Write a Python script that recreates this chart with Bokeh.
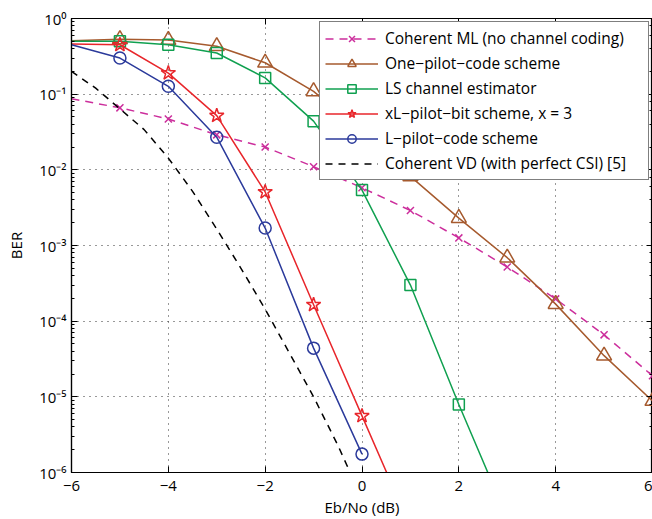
from bokeh.plotting import figure
from bokeh.models import (Legend, LegendItem, LinearAxis, LogAxis, FixedTicker,
                          CustomJSTickFormatter, Range1d, LogTicker)
from bokeh.embed import file_html
from bokeh.resources import INLINE

# ---- data (Eb/No in dB, BER) ----
snr_ml = [-6, -5, -4, -3, -2, -1, 0, 1, 2, 3, 4, 5, 6]
ber_ml = [0.087, 0.066, 0.047, 0.029, 0.020, 0.011, 0.0058, 0.0029, 0.00126, 5.2e-4, 1.97e-4, 6.6e-5, 1.9e-5]

snr_one = [-6, -5, -4, -3, -2, -1, 0, 1, 2, 3, 4, 5, 6]
ber_one = [0.51, 0.53, 0.52, 0.43, 0.26, 0.109, 0.032, 8.2e-3, 2.3e-3, 6.9e-4, 1.68e-4, 3.5e-5, 8.8e-6]

snr_ls = [-6, -5, -4, -3, -2, -1, 0, 1, 2, 3]
ber_ls = [0.50, 0.50, 0.45, 0.35, 0.164, 0.044, 5.4e-3, 3.0e-4, 7.9e-6, 2.5e-7]

snr_xl = [-6, -5, -4, -3, -2, -1, 0, 1]
ber_xl = [0.46, 0.45, 0.19, 0.052, 5.1e-3, 1.65e-4, 5.6e-6, 1.9e-7]

snr_lp = [-6, -5, -4, -3, -2, -1, 0]
ber_lp = [0.45, 0.30, 0.127, 0.027, 1.7e-3, 4.4e-5, 1.75e-6]

snr_vd = [-6, -5.5, -5, -4.5, -4, -3.5, -3, -2.5, -2, -1.5, -1, -0.5, 0]
ber_vd = [0.2, 0.12, 0.064, 0.034, 0.0143, 5.2e-3, 1.65e-3, 5.0e-4, 1.44e-4, 3.8e-5, 1.0e-5, 2.3e-6, 4.5e-7]

x_ticks = [-6, -4, -2, 0, 2, 4, 6]
x_tick_labels = {-6: "\u22126", -4: "\u22124", -2: "\u22122", 0: "0", 2: "2", 4: "4", 6: "6"}

FONT = "Open Sans"

p = figure(width=652, height=519, output_backend="svg", toolbar_location=None,
           y_axis_type="log", x_range=Range1d(-6, 6), y_range=Range1d(1e-6, 1),
           min_border_left=71, min_border_right=0, min_border_top=18, min_border_bottom=47)

p.outline_line_color = "black"
p.outline_line_width = 1.2
p.background_fill_color = "white"
p.border_fill_color = "white"

# grids
p.xgrid.ticker = FixedTicker(ticks=x_ticks)
for g in (p.xgrid, p.ygrid):
    g.grid_line_color = "#333333"
    g.grid_line_dash = "1 5"
    g.grid_line_width = 1

# axes
xa = p.xaxis[0]
xa.ticker = FixedTicker(ticks=x_ticks)
xa.major_label_overrides = x_tick_labels
ya = p.yaxis[0]
sup_js = """
const sup = {"-":"\u207b","0":"\u2070","1":"\u00b9","2":"\u00b2","3":"\u00b3","4":"\u2074","5":"\u2075","6":"\u2076","7":"\u2077","8":"\u2078","9":"\u2079"};
const e = Math.round(Math.log10(tick)).toString();
return "10" + e.split("").map(c => sup[c]).join("");
"""
ya.formatter = CustomJSTickFormatter(code=sup_js)

for ax in (xa, ya):
    ax.axis_line_color = "black"
    ax.axis_line_width = 1.2
    ax.major_tick_in = 6
    ax.major_tick_out = 0
    ax.minor_tick_in = 3
    ax.minor_tick_out = 0
    ax.major_label_text_font = FONT
    ax.major_label_text_font_size = "15px"
    ax.major_label_text_color = "black"
    ax.axis_label_text_font = FONT
    ax.axis_label_text_font_size = "15px"
    ax.axis_label_text_font_style = "normal"
    ax.axis_label_text_color = "black"
xa.minor_tick_in = 0
xa.axis_label = "Eb/No (dB)"
ya.axis_label = "BER"
xa.major_label_standoff = 8
xa.axis_label_standoff = 3
ya.major_label_standoff = 5
ya.axis_label_standoff = 10

empty = CustomJSTickFormatter(code='return "";')
top = LinearAxis(ticker=FixedTicker(ticks=x_ticks), formatter=empty,
                 major_tick_in=6, major_tick_out=0, minor_tick_in=0, minor_tick_out=0,
                 major_label_standoff=0, axis_line_color="black", axis_line_width=1.2)
p.add_layout(top, "above")
right = LogAxis(ticker=LogTicker(), formatter=CustomJSTickFormatter(code='return "";'),
                major_tick_in=6, major_tick_out=0, minor_tick_in=3, minor_tick_out=0,
                major_label_standoff=0, axis_line_color="black", axis_line_width=1.2)
p.add_layout(right, "right")

# series
C_ML = "#CC2E9C"
C_ONE = "#A65A2E"
C_LS = "#10A050"
C_XL = "#E8262B"
C_LP = "#2B3A9B"
LW = 1.5

items = []

l = p.line(snr_ml, ber_ml, line_color=C_ML, line_width=LW, line_dash="8 6")
s = p.scatter(snr_ml[1:], ber_ml[1:], marker="x", size=10, line_color=C_ML, line_width=LW)
items.append(LegendItem(label="Coherent ML (no channel coding)", renderers=[l, s]))

l = p.line(snr_one, ber_one, line_color=C_ONE, line_width=LW)
s = p.scatter(snr_one[1:], ber_one[1:], marker="triangle", size=15, line_color=C_ONE,
              fill_color=None, line_width=LW)
items.append(LegendItem(label="One\u2212pilot\u2212code scheme", renderers=[l, s]))

l = p.line(snr_ls, ber_ls, line_color=C_LS, line_width=LW)
s = p.scatter(snr_ls[1:], ber_ls[1:], marker="square", size=11, line_color=C_LS,
              fill_color=None, line_width=LW)
items.append(LegendItem(label="LS channel estimator", renderers=[l, s]))

l = p.line(snr_xl, ber_xl, line_color=C_XL, line_width=LW)
s = p.scatter(snr_xl[1:], ber_xl[1:], marker="star", size=15, line_color=C_XL,
              fill_color=None, line_width=LW)
items.append(LegendItem(label="xL\u2212pilot\u2212bit scheme, x = 3", renderers=[l, s]))

l = p.line(snr_lp, ber_lp, line_color=C_LP, line_width=LW)
s = p.scatter(snr_lp[1:], ber_lp[1:], marker="circle", size=12, line_color=C_LP,
              fill_color=None, line_width=LW)
items.append(LegendItem(label="L\u2212pilot\u2212code scheme", renderers=[l, s]))

l = p.line(snr_vd, ber_vd, line_color="black", line_width=LW, line_dash="7 6")
items.append(LegendItem(label="Coherent VD (with perfect CSI) [5]", renderers=[l]))

legend = Legend(items=items, location="top_right")
legend.margin = 3
legend.padding = 5
legend.spacing = 3
legend.glyph_width = 53
legend.glyph_height = 21
legend.label_height = 21
legend.label_width = 258
legend.label_standoff = 7
legend.label_text_font = FONT
legend.label_text_font_size = "15.5px"
legend.label_text_color = "black"
legend.border_line_color = "black"
legend.border_line_width = 1
legend.background_fill_alpha = 1
p.add_layout(legend, "center")

open("out.html", "w").write(file_html(p, INLINE))
